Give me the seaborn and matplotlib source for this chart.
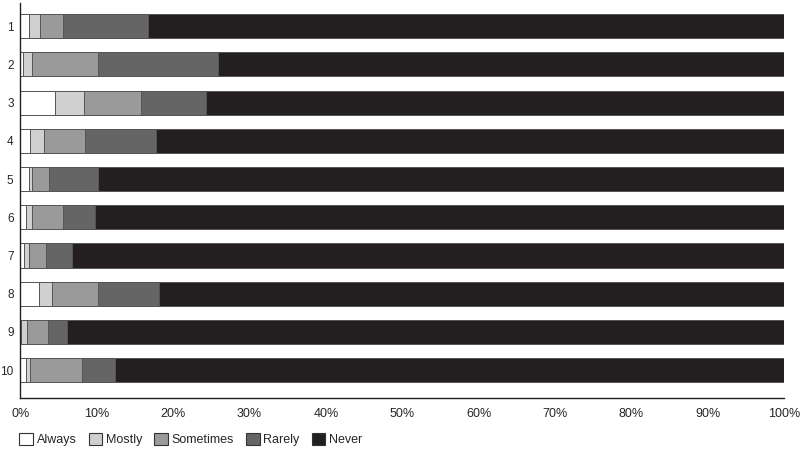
import matplotlib
matplotlib.use("Agg")
import matplotlib.pyplot as plt
from matplotlib.patches import Patch
from matplotlib.ticker import PercentFormatter
import seaborn as sns
import numpy as np
import pandas as pd

items = ['1', '2', '3', '4', '5', '6', '7', '8', '9', '10']
responses = ['Always', 'Mostly', 'Sometimes', 'Rarely', 'Never']

always    = [1.15, 0.37, 4.56, 1.29, 1.15, 0.76, 0.46, 2.46, 0.10, 0.72]
mostly    = [1.40, 1.18, 3.74, 1.81, 0.40, 0.74, 0.69, 1.71, 0.80, 0.57]
sometimes = [3.05, 8.55, 7.50, 5.40, 2.25, 4.10, 2.19, 6.03, 2.70, 6.76]
rarely    = [11.1, 15.8, 8.50, 9.20, 6.30, 4.10, 3.36, 7.90, 2.45, 4.35]
never     = [100 - a - b - c - d for a, b, c, d in zip(always, mostly, sometimes, rarely)]

colors = {
    'Always': '#ffffff',
    'Mostly': '#d0d0d0',
    'Sometimes': '#9a9a9a',
    'Rarely': '#656565',
    'Never': '#231f20',
}

df = pd.DataFrame({'Item': items, 'Always': always, 'Mostly': mostly,
                   'Sometimes': sometimes, 'Rarely': rarely, 'Never': never})

sns.set_style("white")
plt.rcParams['font.family'] = ['Liberation Sans', 'DejaVu Sans']

fig = plt.figure(figsize=(8, 4.49), dpi=100)
ax = fig.add_axes([0.0256, 0.1125, 0.9544, 0.8805])

# stacked bars: draw cumulative totals from the largest down
cum = df[responses].cumsum(axis=1)
for resp in reversed(responses):
    sns.barplot(x=cum[resp], y=df['Item'], orient='h', color=colors[resp],
                width=0.63, edgecolor='#555555', linewidth=0.7, ax=ax,
                saturation=1)

ax.set_xlim(0, 100)
ax.set_ylim(9.74, -0.6)
ax.set_xticks(np.arange(0, 101, 10))
ax.xaxis.set_major_formatter(PercentFormatter(decimals=0))
ax.set_xlabel('')
ax.set_ylabel('')
sns.despine(ax=ax)
for s in ['left', 'bottom']:
    ax.spines[s].set_color('#222222')
    ax.spines[s].set_linewidth(1.0)
ax.tick_params(axis='x', length=5, width=0.8, color='#222222', labelsize=9, pad=2)
ax.tick_params(axis='y', length=0, labelsize=8.5, pad=5)

handles = [Patch(facecolor=colors[r], edgecolor='#333333', linewidth=0.8, label=r) for r in responses]
fig.legend(handles=handles, loc='lower left', bbox_to_anchor=(0.01, -0.018), ncol=5,
           frameon=False, fontsize=9, handlelength=1.1, handleheight=1.1,
           handletextpad=0.3, columnspacing=0.95)

plt.savefig('out.png', dpi=100)
plt.close()
